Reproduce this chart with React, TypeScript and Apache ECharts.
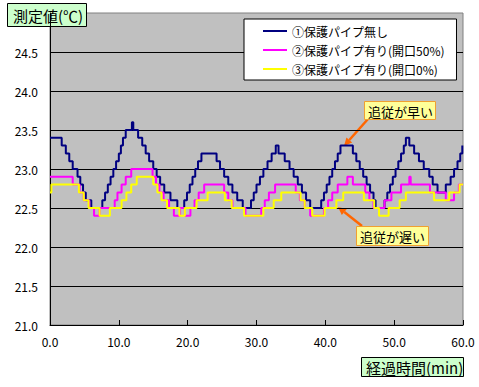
import React, { useEffect, useRef } from "react";
import * as echarts from "echarts";

// [time (min), temperature (°C)] change points; value holds until the next point
const noPipe: [number, number][] = [
  [0, 23.4], [1.7, 23.3], [2.3, 23.2], [2.8, 23.1], [3.3, 23.0], [4.0, 22.9], [4.4, 22.8], [4.8, 22.7], [5.2, 22.6], [6.0, 22.5],
  [7.6, 22.6], [8.0, 22.7], [8.4, 22.8], [8.8, 22.9], [9.2, 23.0], [9.6, 23.1], [10.0, 23.2], [10.3, 23.3], [10.6, 23.4], [11.0, 23.5],
  [11.9, 23.6], [12.1, 23.5], [12.8, 23.4], [13.4, 23.3], [13.9, 23.2], [14.4, 23.1], [15.0, 23.0], [15.5, 22.9], [16.0, 22.8], [16.6, 22.7],
  [17.5, 22.6], [18.5, 22.5], [19.5, 22.6], [19.9, 22.7], [20.3, 22.8], [20.7, 22.9], [21.1, 23.0], [21.5, 23.1], [22.0, 23.2], [24.2, 23.1],
  [24.7, 23.0], [25.3, 22.9], [25.9, 22.8], [26.5, 22.7], [27.2, 22.6], [28.0, 22.5], [29.2, 22.6], [29.6, 22.7], [30.0, 22.8], [30.5, 22.9],
  [31.0, 23.0], [31.6, 23.1], [32.2, 23.2], [32.8, 23.3], [33.2, 23.2], [34.1, 23.1], [34.8, 23.0], [35.4, 22.9], [36.0, 22.8], [36.6, 22.7],
  [37.2, 22.6], [37.8, 22.5], [39.4, 22.6], [39.8, 22.7], [40.2, 22.8], [40.6, 22.9], [41.0, 23.0], [41.4, 23.1], [41.8, 23.2], [42.2, 23.3],
  [44.0, 23.2], [44.5, 23.1], [45.0, 23.0], [45.5, 22.9], [46.0, 22.8], [46.5, 22.7], [47.0, 22.6], [47.3, 22.5], [48.6, 22.6], [49.0, 22.7],
  [49.4, 22.8], [49.8, 22.9], [50.2, 23.0], [50.6, 23.1], [51.0, 23.2], [51.4, 23.3], [51.7, 23.4], [52.2, 23.3], [52.9, 23.2], [53.6, 23.1],
  [54.3, 23.0], [55.1, 22.9], [55.6, 22.8], [56.3, 22.7], [57.5, 22.8], [58.2, 22.9], [58.7, 23.0], [59.2, 23.1], [59.6, 23.2], [59.9, 23.3],
  [60, 23.3],
];

const pipeOpen50: [number, number][] = [
  [0, 22.9], [3.3, 22.8], [4.3, 22.7], [4.9, 22.6], [5.7, 22.5], [6.4, 22.4], [7.2, 22.5], [9.4, 22.6], [9.8, 22.7], [10.4, 22.8],
  [11.0, 22.9], [11.8, 23.0], [14.9, 22.9], [15.4, 22.8], [15.9, 22.7], [16.5, 22.6], [17.3, 22.5], [18.0, 22.4], [18.9, 22.5], [19.6, 22.4],
  [20.4, 22.5], [21.0, 22.6], [21.6, 22.7], [22.4, 22.8], [25.3, 22.7], [25.9, 22.6], [26.5, 22.5], [28.4, 22.4], [30.7, 22.5], [31.2, 22.6],
  [31.8, 22.7], [32.7, 22.8], [35.7, 22.7], [36.3, 22.6], [37.0, 22.5], [37.8, 22.4], [39.8, 22.5], [40.4, 22.6], [41.0, 22.7], [41.8, 22.8],
  [43.2, 22.9], [44.0, 22.8], [45.8, 22.7], [46.4, 22.6], [47.0, 22.5], [48.6, 22.6], [49.6, 22.7], [51.0, 22.8], [52.2, 22.9], [52.4, 22.8],
  [55.2, 22.7], [57.5, 22.6], [58.7, 22.7], [59.4, 22.8], [60, 22.8],
];

const pipeOpen0: [number, number][] = [
  [0, 22.7], [0.2, 22.8], [4.2, 22.7], [4.9, 22.6], [5.6, 22.5], [7.2, 22.4], [8.7, 22.5], [10.4, 22.6], [11.1, 22.7], [11.8, 22.8],
  [12.6, 22.9], [15.0, 22.8], [15.6, 22.7], [16.2, 22.6], [17.0, 22.5], [18.8, 22.4], [19.6, 22.5], [21.3, 22.6], [22.9, 22.7], [25.4, 22.6],
  [26.4, 22.5], [28.2, 22.4], [31.0, 22.5], [32.5, 22.6], [33.6, 22.7], [36.4, 22.6], [37.0, 22.5], [38.1, 22.4], [39.9, 22.5], [41.6, 22.6],
  [42.6, 22.7], [45.6, 22.6], [47.1, 22.5], [47.8, 22.4], [49.2, 22.5], [50.8, 22.6], [51.7, 22.7], [55.8, 22.6], [58.0, 22.7], [59.5, 22.8],
  [60, 22.8],
];

const seriesNames = [
  "①保護パイプ無し",
  "②保護パイプ有り(開口50%)",
  "③保護パイプ有り(開口0%)",
];
const seriesColors = ["#000080", "#FF00FF", "#FFFF00"];

const yTitle = "測定値(℃)";
const xTitle = "経過時間(min)";
const noteFast = "追従が早い";
const noteSlow = "追従が遅い";

const FONT = "'Noto Sans CJK JP', 'Noto Sans', sans-serif";

export default function App() {
  const ref = useRef<HTMLDivElement>(null);
  useEffect(() => {
    document.body.style.margin = "0";
    const chart = echarts.init(ref.current!, null, { renderer: "svg" });
    const datasets = [noPipe, pipeOpen50, pipeOpen0];
    const arrowColor = "#FF6600";
    chart.setOption({
      animation: false,
      backgroundColor: "#ffffff",
      textStyle: { fontFamily: FONT },
      grid: {
        left: 50,
        top: 13,
        right: 16,
        bottom: 62,
        show: true,
        backgroundColor: "#C0C0C0",
        borderColor: "#808080",
        borderWidth: 1,
      },
      legend: {
        left: 244,
        top: 19,
        orient: "vertical",
        backgroundColor: "#ffffff",
        borderColor: "#000000",
        borderWidth: 1,
        borderRadius: 0,
        padding: [6, 12, 5, 18],
        itemWidth: 24,
        itemHeight: 12,
        itemGap: 7,
        itemStyle: { opacity: 0 },
        lineStyle: { width: 2 },
        textStyle: { fontSize: 12, color: "#000", fontFamily: FONT },
        data: seriesNames,
      },
      xAxis: {
        type: "value",
        min: 0,
        max: 60,
        interval: 10,
        axisLine: { show: true, onZero: false, lineStyle: { color: "#000", width: 1 } },
        axisTick: { show: true, inside: true, length: 5, lineStyle: { color: "#000" } },
        axisLabel: {
          margin: 10,
          fontSize: 12,
          color: "#000",
          fontFamily: FONT,
          formatter: (v: number) => v.toFixed(1),
        },
        splitLine: { show: false },
      },
      yAxis: {
        type: "value",
        min: 21,
        max: 25,
        interval: 0.5,
        axisLine: { show: true, lineStyle: { color: "#000", width: 1 } },
        axisTick: { show: false },
        axisLabel: {
          margin: 12,
          fontSize: 12,
          color: "#000",
          fontFamily: FONT,
          formatter: (v: number) => (v >= 25 ? "" : v.toFixed(1)),
        },
        splitLine: {
          show: true,
          showMaxLine: false,
          lineStyle: { color: "#000", width: 1 },
        },
      },
      series: datasets.map((d, i) => ({
        name: seriesNames[i],
        type: "line",
        step: "end",
        symbol: "none",
        data: d,
        color: seriesColors[i],
        lineStyle: { color: seriesColors[i], width: 2 },
        z: 2 + i,
      })),
      graphic: [
        {
          type: "group",
          z: 100,
          children: [
            { type: "rect", shape: { x: 7.5, y: 3.5, width: 79, height: 23 }, style: { fill: "#CCFFCC", stroke: "#000", lineWidth: 1 } },
            { type: "text", x: 13, y: 15, style: { text: yTitle, fill: "#000", font: `15px ${FONT}`, verticalAlign: "middle" } },
            { type: "rect", shape: { x: 361.5, y: 357.5, width: 102, height: 19 }, style: { fill: "#CCFFCC", stroke: "#000", lineWidth: 1 } },
            { type: "text", x: 366, y: 367.5, style: { text: xTitle, fill: "#000", font: `15px ${FONT}`, verticalAlign: "middle" } },
            // note: fast
            { type: "line", shape: { x1: 368, y1: 119, x2: 349.3, y2: 140 }, style: { stroke: arrowColor, lineWidth: 2.5 } },
            { type: "polygon", shape: { points: [[344, 146], [352.2, 142.6], [346.4, 137.4]] }, style: { fill: arrowColor } },
            { type: "rect", shape: { x: 364.5, y: 101.5, width: 71, height: 18 }, style: { fill: "#FFFF99", stroke: "#F0A030", lineWidth: 1 } },
            { type: "text", x: 368, y: 111, style: { text: noteFast, fill: "#000", font: `13px ${FONT}`, verticalAlign: "middle" } },
            // note: slow
            { type: "line", shape: { x1: 362, y1: 226, x2: 344.3, y2: 212 }, style: { stroke: arrowColor, lineWidth: 2.5 } },
            { type: "polygon", shape: { points: [[338, 207], [346.8, 209.0], [341.8, 215.0]] }, style: { fill: arrowColor } },
            { type: "rect", shape: { x: 356.5, y: 226.5, width: 72, height: 19 }, style: { fill: "#FFFF99", stroke: "#F0A030", lineWidth: 1 } },
            { type: "text", x: 360, y: 236.5, style: { text: noteSlow, fill: "#000", font: `13px ${FONT}`, verticalAlign: "middle" } },
          ],
        },
      ],
    });
    return () => chart.dispose();
  }, []);
  return <div ref={ref} style={{ width: 479, height: 387 }} />;
}
